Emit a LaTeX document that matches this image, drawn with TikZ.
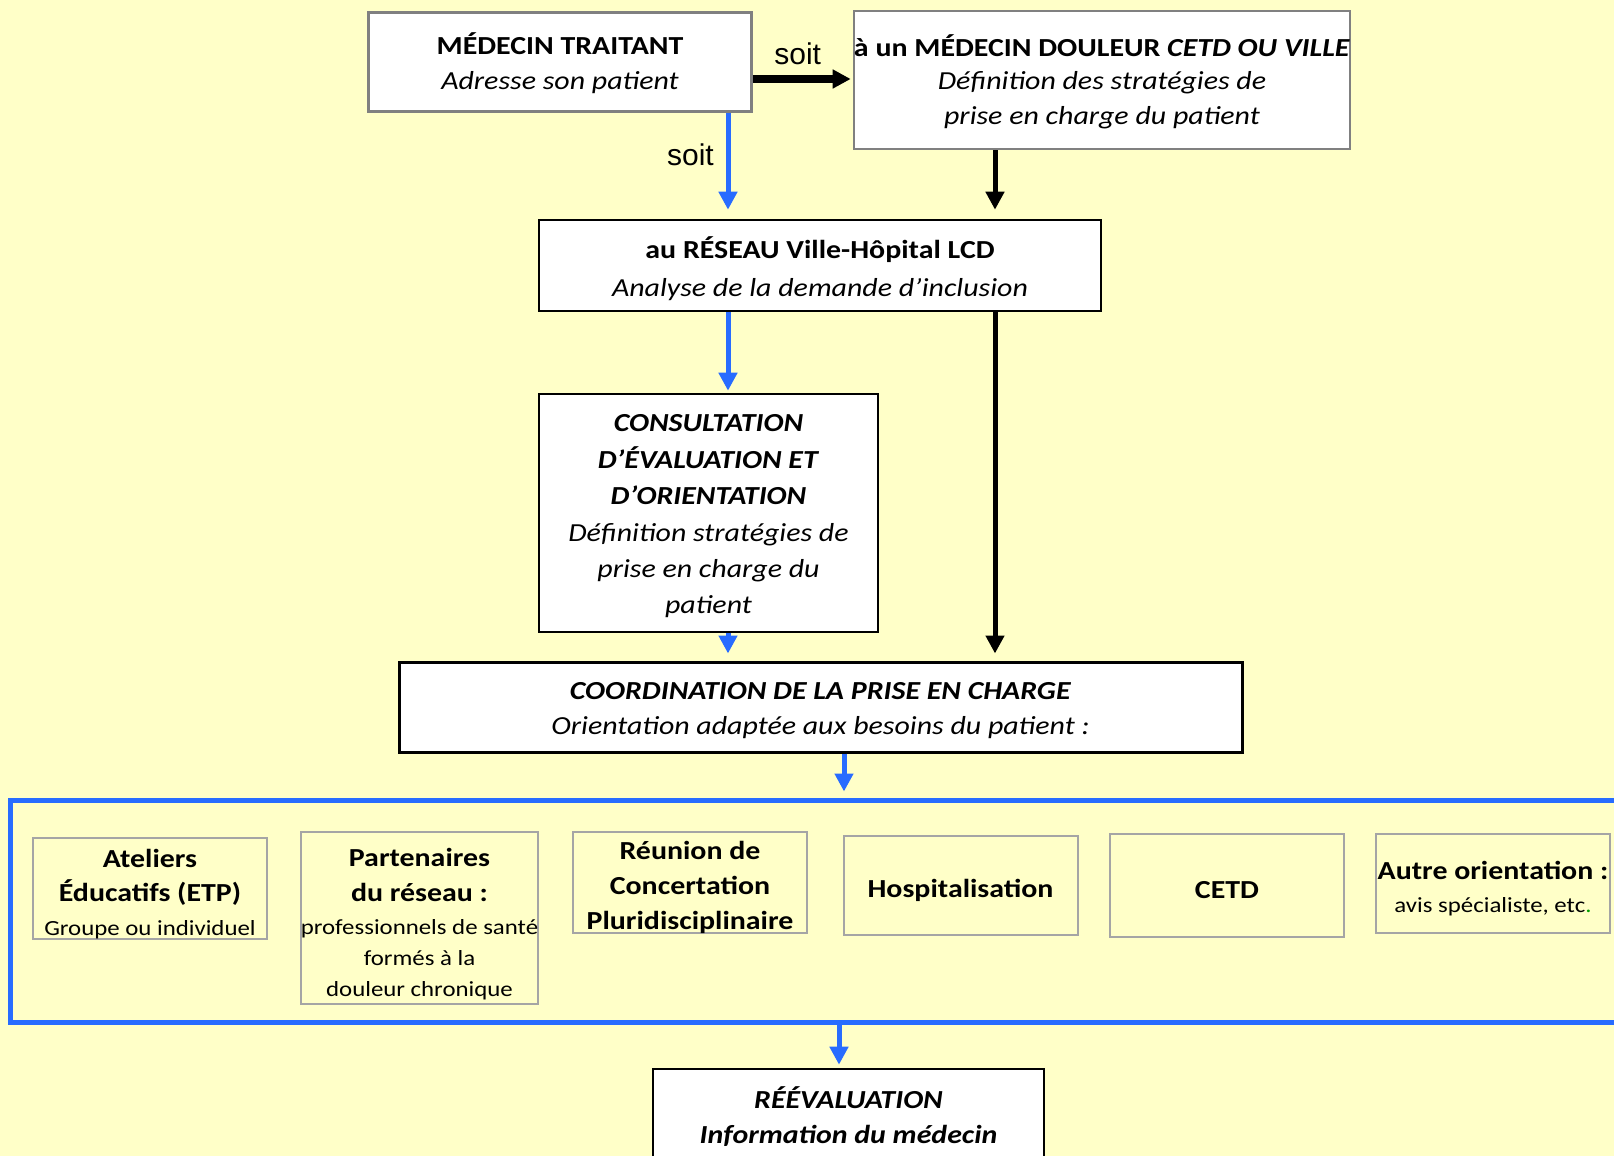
\documentclass[tikz,border=0pt]{standalone}
\usepackage{fontspec}
\setmainfont{Carlito}[FakeStretch=1.15]
\newfontfamily\soitfont{Liberation Sans}
\usetikzlibrary{arrows.meta}
\definecolor{fondjaune}{RGB}{255,255,200}
\definecolor{bleuflux}{RGB}{40,108,255}
\definecolor{grisbord}{RGB}{165,165,165}
\definecolor{vertpoint}{RGB}{0,160,0}
\newcommand\petittxt{\fontsize{10.8}{15.5}\selectfont}
\newcommand\haut[1]{\rule{0pt}{#1}}
\begin{document}
\begin{tikzpicture}[x=0.5pt,y=-0.5pt]
        \tikzset{
          boite/.style={draw=black,fill=white,line width=1.3pt,inner sep=0pt,align=center,
            font=\fontsize{13}{17.5}\selectfont},
          boitegrise/.style={boite,draw=gray},
          optbox/.style={draw=grisbord,line width=1pt,inner sep=0pt,align=center,
            minimum width=117pt,font=\fontsize{13}{17.5}\selectfont},
          bluearrow/.style={draw=bleuflux,line width=2.5pt,-{Triangle[length=9pt,width=9pt]}},
          blackarrow/.style={draw=black,line width=2.5pt,-{Triangle[length=9pt,width=9pt]}},
          soit/.style={font=\soitfont\fontsize{15}{17}\selectfont}
        }
        %FOND
        \fill[fondjaune] (0,0) rectangle (1614,1156);
        \clip (0,0) rectangle (1614,1156);
        \useasboundingbox (0,0) rectangle (1614,1156);
        %COLONNES
        \coordinate (colA) at (728,0);
        \coordinate (colB) at (995,0);
        \coordinate (colC) at (844,0);
        \coordinate (colD) at (839,0);
        \coordinate (rowA) at (0,79);

        %BOITES DU HAUT
        \node[boitegrise,minimum width=191.5pt,minimum height=49.5pt] (trait) at (560,62)
          {\haut{12.2pt}\textbf{MÉDECIN TRAITANT}\\\textit{Adresse son patient}};
        \node[boitegrise,minimum width=247.75pt,minimum height=69pt] (douleur) at (1102,80)
          {\haut{12.5pt}\textbf{à un MÉDECIN DOULEUR \textit{CETD OU VILLE}}\\[-1pt]
           \textit{Définition des stratégies de}\\\textit{prise en charge du patient}};
        \node[boite,font=\fontsize{13}{19}\selectfont,minimum width=281pt,minimum height=45.5pt] (reseau) at (820,265.5)
          {\haut{13.8pt}\textbf{au RÉSEAU Ville-Hôpital LCD}\\\textit{Analyse de la demande d’inclusion}};
        \node[boite,font=\fontsize{13}{18.2}\selectfont,minimum width=169.5pt,minimum height=119pt] (consult) at (708.5,513)
          {\haut{12pt}\textbf{\textit{CONSULTATION}}\\\textbf{\textit{D’ÉVALUATION ET}}\\
           \textbf{\textit{D’ORIENTATION}}\\\textit{Définition stratégies de}\\
           \textit{prise en charge du}\\\textit{patient}};
        \node[boite,line width=1.5pt,minimum width=421.5pt,minimum height=45pt] (coord) at (820.5,707)
          {\haut{12.5pt}\textbf{\textit{COORDINATION DE LA PRISE EN CHARGE}}\\
           \textit{Orientation adaptée aux besoins du patient :}};

        %CADRE BLEU
        \node[draw=bleuflux,line width=2.5pt,minimum width=820pt,minimum height=111pt] (orient) at (830,911) {};
        \foreach \cx/\cy/\h/\txt [count=\i] in {
            150/888.5/49.5/{\haut{14.8pt}\textbf{Ateliers}\\[-0.5pt]\textbf{Éducatifs (ETP)}\\[-0.5pt]{\petittxt Groupe ou individuel}},
            419.5/918/86/{\haut{15.2pt}\textbf{Partenaires}\\\textbf{du réseau :}\\[-1pt]{\petittxt professionnels de santé}\\[-2pt]{\petittxt formés à la}\\[-2pt]{\petittxt douleur chronique}},
            690/882.5/50.5/{\haut{13.8pt}\textbf{Réunion de}\\\textbf{Concertation}\\\textbf{Pluridisciplinaire}},
            960.5/885.5/49.5/{\haut{14pt}\textbf{Hospitalisation}},
            1227/885.5/51.5/{\haut{13.5pt}\textbf{CETD}},
            1493/883.5/49.5/{\haut{14.3pt}\textbf{Autre orientation :}\\[-1pt]{\petittxt avis spécialiste, etc{\color{vertpoint}.}}}}{
            \node[optbox,minimum height=\h pt] (opt\i) at (\cx,\cy) {\txt};
        }

        %BOITE DU BAS
        \node[boite,minimum width=195.5pt,minimum height=47.5pt] (reeval) at (848.5,1116.5)
          {\textbf{\textit{RÉÉVALUATION}}\\\textbf{\textit{Information du médecin}}};

        %FLECHES
        \draw[blackarrow,line width=4pt,shorten >=1pt] (trait.east |- rowA) -- (douleur.west |- rowA)
          node[pos=0.45,above=2pt,soit] {soit};
        \draw[bluearrow,shorten >=4.5pt] (trait.south -| colA) -- (reseau.north -| colA)
          node[pos=0.4,left=2.5pt,soit] {soit};
        \draw[blackarrow,shorten >=4.5pt] (douleur.south -| colB) -- (reseau.north -| colB);
        \draw[bluearrow,shorten >=1pt] (reseau.south -| colA) -- (consult.north -| colA);
        \draw[blackarrow,shorten >=3.5pt] (reseau.south -| colB) -- (coord.north -| colB);
        \draw[bluearrow,shorten >=3.5pt] (consult.south -| colA) -- (coord.north -| colA);
        \draw[bluearrow,shorten >=3pt] (coord.south -| colC) -- (orient.north -| colC);
        \draw[bluearrow,shorten >=1.5pt] (orient.south -| colD) -- (reeval.north -| colD);
\end{tikzpicture}
\end{document}
